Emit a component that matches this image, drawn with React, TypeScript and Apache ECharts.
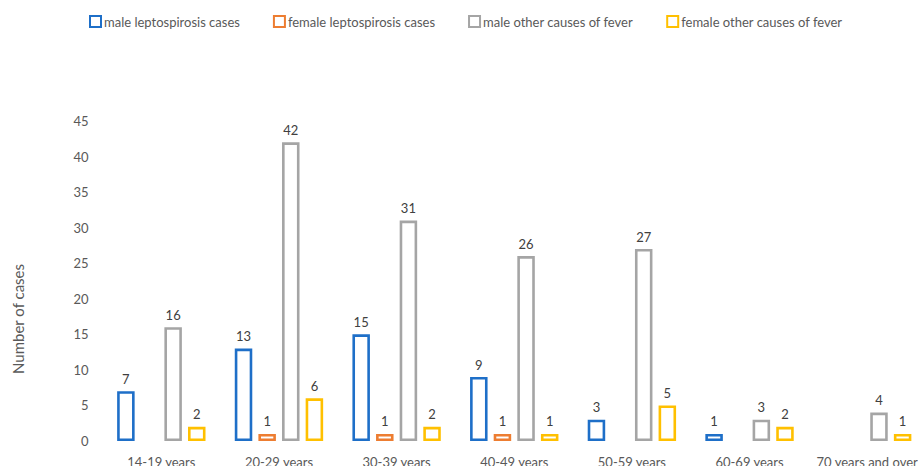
import React, { useEffect, useRef } from "react";
import * as echarts from "echarts";

const categories = ["14-19 years", "20-29 years", "30-39 years", "40-49 years", "50-59 years", "60-69 years", "70 years and over"];
const maleLepto = [7, 13, 15, 9, 3, 1, null];
const femaleLepto = [null, 1, 1, 1, null, null, null];
const maleOther = [16, 42, 31, 26, 27, 3, 4];
const femaleOther = [2, 6, 2, 1, 5, 2, 1];
const yTicks = { min: 0, max: 45, interval: 5 };

const FONT = "Lato";

export default function App() {
  const ref = useRef<HTMLDivElement>(null);
  useEffect(() => {
    document.body.style.margin = "0";
    document.body.style.overflow = "hidden";
    if (!ref.current) return;
    const chart = echarts.init(ref.current, undefined, { renderer: "svg" });
    const mk = (name: string, data: (number | null)[], color: string) => ({
      name,
      type: "bar",
      data: data.map((v) => (v === null ? "-" : v)),
      barWidth: 17.5,
      barGap: "35%",
      itemStyle: { color: "#ffffff", borderColor: color, borderWidth: 2.6 },
      label: {
        show: true,
        position: "top",
        distance: 6,
        color: "#404040",
        fontFamily: FONT,
        fontSize: 13,
      },
    });
    chart.setOption({
      animation: false,
      textStyle: { fontFamily: FONT },
      legend: {
        top: 10,
        left: 84,
        itemWidth: 11,
        itemHeight: 11,
        itemGap: 33,
        icon: "rect",
        textStyle: { color: "#595959", fontSize: 13, fontFamily: FONT, padding: [0, 0, 0, -2] },
      },
      grid: { left: 102.5, width: 823.5, top: 121, height: 320, outerBoundsMode: "none", containLabel: false },
      xAxis: {
        type: "category",
        data: categories,
        axisLine: { show: false },
        axisTick: { show: false },
        axisLabel: { color: "#595959", fontSize: 13, fontFamily: FONT, margin: 14, interval: 0 },
        splitLine: { show: false },
      },
      yAxis: {
        type: "value",
        min: yTicks.min,
        max: yTicks.max,
        interval: yTicks.interval,
        axisLine: { show: false },
        axisTick: { show: false },
        splitLine: { show: false },
        axisLabel: { color: "#595959", fontSize: 13, fontFamily: FONT, margin: 14 },
      },
      graphic: [
        {
          type: "text",
          x: 18,
          y: 319,
          rotation: Math.PI / 2,
          style: {
            text: "Number of cases",
            fill: "#595959",
            fontSize: 15,
            fontFamily: FONT,
            align: "center",
            verticalAlign: "middle",
          },
        },
      ],
      series: [
        mk("male leptospirosis cases", maleLepto, "#1E6FC8"),
        mk("female leptospirosis cases", femaleLepto, "#ED7D31"),
        mk("male other causes of fever", maleOther, "#A5A5A5"),
        mk("female other causes of fever", femaleOther, "#FFC000"),
      ],
    });
    return () => chart.dispose();
  }, []);
  return <div ref={ref} style={{ width: 918, height: 466, overflow: "hidden" }} />;
}
